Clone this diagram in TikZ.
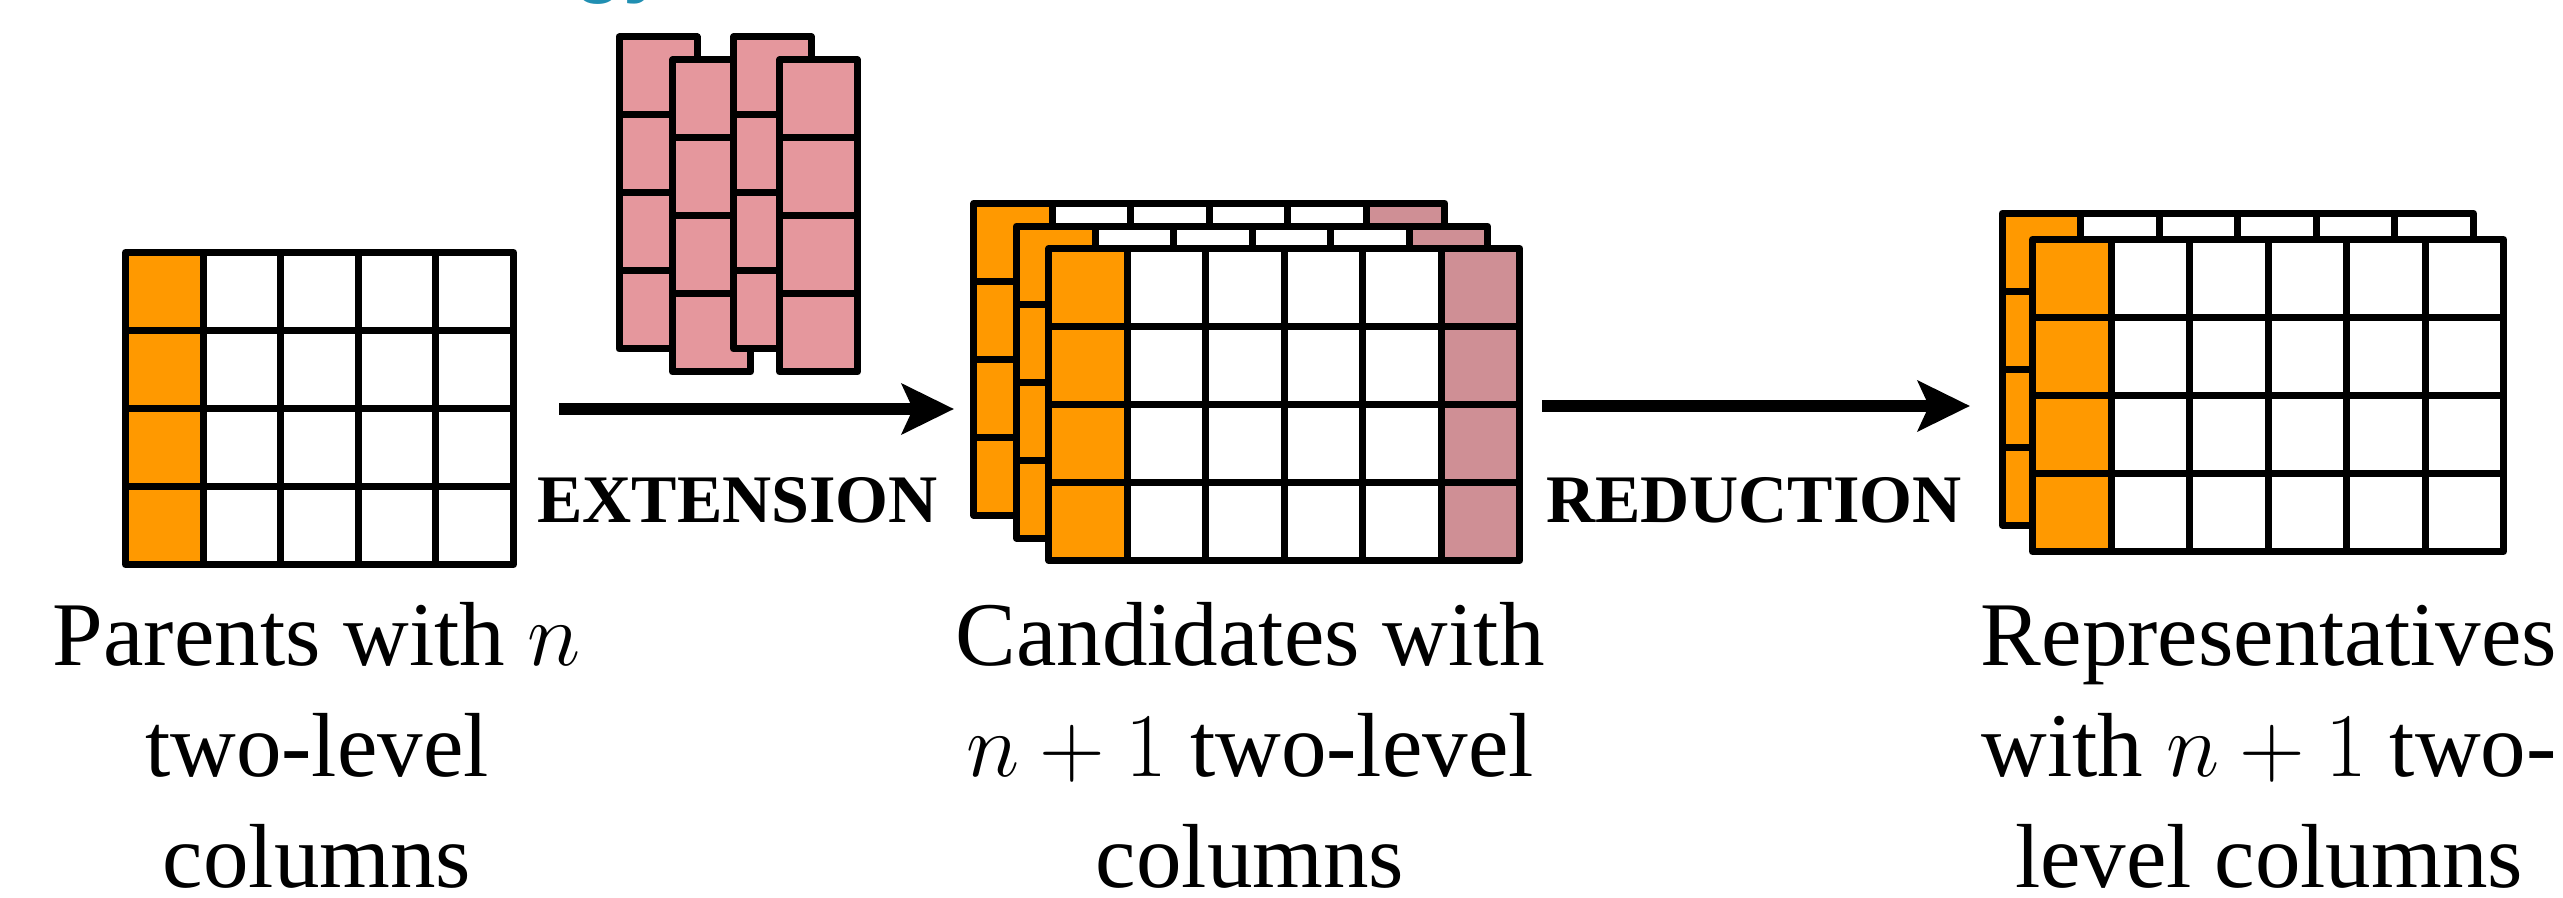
\RequirePackage{fix-cm}
\documentclass[tikz,border=0pt]{standalone}
\usepackage{fontspec}
\setmainfont{Liberation Serif}
\newfontfamily\titlefont{Liberation Sans}
\usetikzlibrary{arrows.meta}
\definecolor{orng}{RGB}{255,153,0}
\definecolor{extpink}{RGB}{229,151,157}
\definecolor{candpink}{RGB}{207,143,149}
\definecolor{titlecyan}{RGB}{32,143,178}
\tikzset{
  gridline/.style={draw=black, line width=3.5pt, line join=round, line cap=rect},
  flowarrow/.style={line width=5.5pt, -{Stealth[length=26pt, width=25pt, inset=5.5pt]}},
  oplabel/.style={font=\fontsize{34}{40}\selectfont\bfseries, inner sep=0pt, anchor=base},
  caption/.style={font=\fontsize{45.5}{55.35}\selectfont, align=center, inner sep=0pt, anchor=base},
}
% #1 x, #2 y (top-left, centre of line), #3 columns, #4 cell width, #5 colour of last column
\newcommand\mygrid[5]{%
  \begin{scope}[shift={(#1,#2)}]
    \fill[white] (0,0) rectangle ({#3*#4},312);
    \fill[orng] (0,0) rectangle (#4,312);
    \fill[#5] ({(#3-1)*#4},0) rectangle ({#3*#4},312);
    \foreach \k in {1,2,3} \draw[gridline] (0,\k*78) -- ({#3*#4},\k*78);
    \pgfmathtruncatemacro\lastcol{#3-1}
    \foreach \k in {1,...,\lastcol} \draw[gridline] ({\k*#4},0) -- ({\k*#4},312);
    \draw[gridline] (0,0) rectangle ({#3*#4},312);
  \end{scope}}
% one pink two-level column
\newcommand\mycolumn[2]{%
  \begin{scope}[shift={(#1,#2)}]
    \fill[extpink] (0,0) rectangle (78,312);
    \foreach \k in {1,2,3} \draw[gridline] (0,\k*78) -- (78,\k*78);
    \draw[gridline] (0,0) rectangle (78,312);
  \end{scope}}
\begin{document}
\begin{tikzpicture}[x=0.5pt,y=-0.5pt]
\useasboundingbox (0,0) rectangle (2563,898);
\fill[white] (0,0) rectangle (2563,898);

% cut-off title fragment
\node[anchor=base west, inner sep=0pt, text=titlecyan, font=\titlefont\bfseries\fontsize{40}{48}\selectfont] (title) at (574,-12) {gy};

% parents
\mygrid{125.5}{252.5}{5}{77.6}{white}

% extension columns
\mycolumn{619}{37}
\mycolumn{672.5}{60}
\mycolumn{733.5}{37}
\mycolumn{779.5}{60}

% candidates
\mygrid{973.9}{203.3}{6}{78.5}{candpink}
\mygrid{1016.5}{226.2}{6}{78.5}{candpink}
\mygrid{1048.9}{248.5}{6}{78.5}{candpink}

% representatives
\mygrid{2002.3}{213.2}{6}{78.5}{white}
\mygrid{2032.5}{239.5}{6}{78.5}{white}

% arrows
\coordinate (extA) at (559,409);
\coordinate (extB) at (954,409);
\coordinate (redA) at (1542,406);
\coordinate (redB) at (1970,406);
\draw[flowarrow] (extA) -- (extB);
\draw[flowarrow] (redA) -- (redB);
\node[oplabel] (extlabel) at (737.5,522) {EXTENSION};
\node[oplabel] (redlabel) at (1754,522) {REDUCTION};

% captions (base anchor = baseline of the last line)
\node[caption] (cap1) at (317,887) {Parents with $n$\\two-level\\columns};
\node[caption] (cap2) at (1250,887) {Candidates with\\$n+1$ two-level\\columns};
\node[caption] (cap3) at (2269,887) {Representatives\\with $n+1$ two-\\level columns};
\end{tikzpicture}
\end{document}
